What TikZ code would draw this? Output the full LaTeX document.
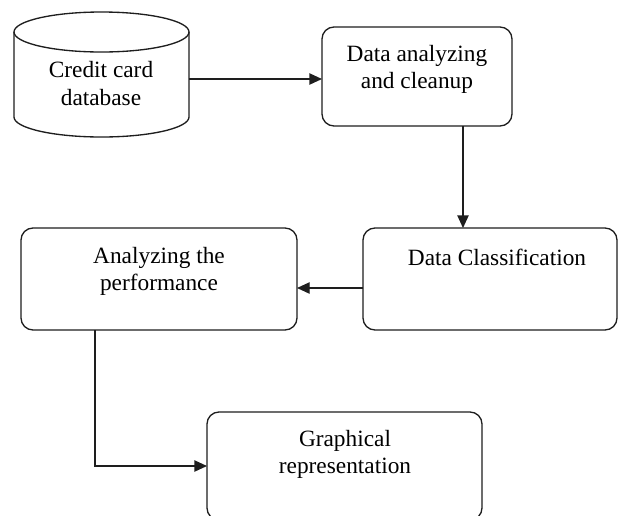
\documentclass[tikz,border=0pt]{standalone}
\usepackage{fontspec}
\setmainfont{Liberation Serif}
\usetikzlibrary{arrows.meta,calc}
\definecolor{linec}{HTML}{1E1E1E}
\begin{document}
\begin{tikzpicture}[x=0.75pt,y=0.75pt,
  every node/.style={font=\fontsize{17.5}{20.3}\selectfont, text=black},
  procbox/.style={draw=linec, line width=1pt, rounded corners=9pt, inner sep=0pt, outer sep=0pt},
  label/.style={align=center, inner sep=0pt},
  arr/.style={draw=linec, line width=1pt, -{Triangle[length=9.5pt,width=8.5pt]}}]
\fill[white] (0,0) rectangle (618,-515);
\clip (0,0) rectangle (618,-515);
% cylinder
\draw[linec, line width=1pt] (101.5,-32) ellipse [x radius=65.625pt, y radius=15pt];
\draw[linec, line width=1pt] (14,-32) -- (14,-117) arc[start angle=180,end angle=360,x radius=65.625pt,y radius=15pt] -- (189,-32);
\node[label] (tdb) at (101,-83.5) {Credit card\\database};
\coordinate (cylR) at (189,-79);
% boxes
\node[procbox, minimum width=142.5pt, minimum height=74.25pt] (b1) at (417,-76.5) {};
\node[label] (t1) at (417,-69) {Data analyzing\\and cleanup};
\node[procbox, minimum width=190.5pt, minimum height=76.5pt] (dc) at (490,-279) {};
\node[label] (t2) at (497,-257) {Data Classification};
\node[procbox, minimum width=207pt, minimum height=76.5pt] (ap) at (159,-279) {};
\node[label] (t3) at (159,-271) {Analyzing the\\performance};
\node[procbox, minimum width=206.25pt, minimum height=81pt] (gr) at (344.5,-466) {};
\node[label] (t4) at (345,-454.5) {Graphical\\representation};
% connectors
\draw[arr] (cylR) -- (cylR -| b1.west);
\draw[arr] ($(b1.south)+(46,0)$) coordinate (s1) -- (s1 |- dc.north);
\draw[arr] ($(dc.west)+(0,-9)$) coordinate (s2) -- (s2 -| ap.east);
\draw[arr] ($(ap.south)+(-64,0)$) |- (gr.west);
\end{tikzpicture}
\end{document}
